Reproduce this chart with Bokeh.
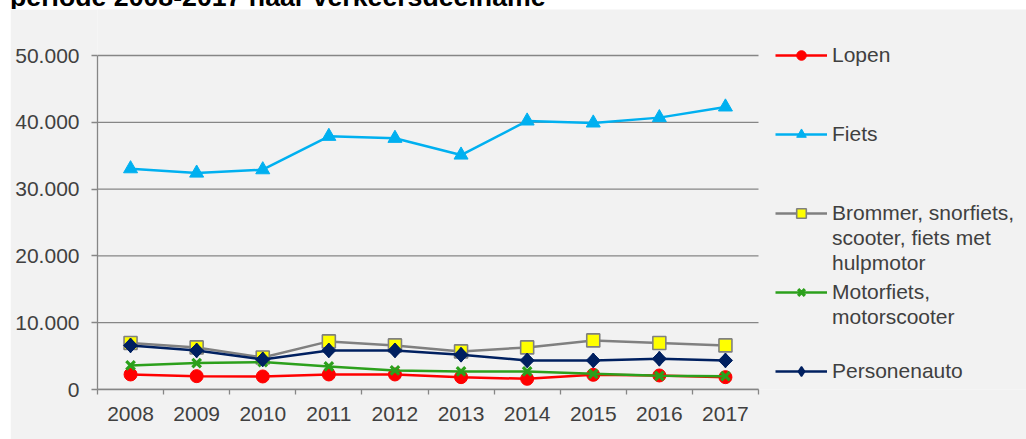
from bokeh.plotting import figure
from bokeh.models import Range1d, FixedTicker, Legend, LegendItem, Div
from bokeh.layouts import column
from bokeh.core.properties import value
from bokeh.embed import file_html
from bokeh.resources import INLINE
import numpy as np

# ---------------- data ----------------
years = ["2008", "2009", "2010", "2011", "2012", "2013", "2014", "2015", "2016", "2017"]
lopen = [2250, 2000, 1950, 2250, 2250, 1850, 1600, 2200, 2100, 1850]
fiets = [33050, 32400, 32900, 37900, 37600, 35100, 40200, 39900, 40700, 42300]
brommer = [6950, 6300, 4800, 7200, 6600, 5700, 6300, 7350, 6950, 6600]
motorfiets = [3600, 3950, 4100, 3450, 2850, 2700, 2700, 2350, 2050, 2000]
personenauto = [6600, 5850, 4500, 5850, 5850, 5200, 4350, 4350, 4600, 4350]

y_tick_values = [0, 10000, 20000, 30000, 40000, 50000]
y_tick_labels = ["0", "10.000", "20.000", "30.000", "40.000", "50.000"]

title_text = "periode 2008-2017 naar verkeersdeelname"

# ---------------- layout constants ----------------
FONT = "Liberation Sans"
AXIS_GRAY = "#868686"
TEXT_GRAY = "#404040"
BG = "#f2f2f2"

FIG_W, FIG_H = 1016, 430
PLOT_L, PLOT_R = 87, 748      # plotting area in canvas px
PLOT_T, PLOT_B = 46, 380
Y_MAX = 50000

n = len(years)
centers = [i + 0.5 for i in range(n)]
bounds = [float(i) for i in range(n + 1)]

# frame is widened to hold the legend; axes are bounded to the plotting area
x_end = n * (FIG_W - PLOT_L) / (PLOT_R - PLOT_L)
y_end = Y_MAX * PLOT_B / (PLOT_B - PLOT_T)

fig = figure(width=FIG_W, height=FIG_H,
             x_range=Range1d(0, x_end), y_range=Range1d(0, y_end),
             output_backend="svg", toolbar_location=None,
             min_border_left=PLOT_L, min_border_right=0,
             min_border_top=0, min_border_bottom=FIG_H - PLOT_B,
             border_fill_color=BG, background_fill_color=BG,
             outline_line_color=None)
fig.styles = {"margin-left": "10px"}

# axes
xt = FixedTicker(ticks=centers, minor_ticks=bounds)
fig.xaxis.ticker = xt
fig.xaxis.bounds = (0, n)
fig.xaxis.major_label_overrides = {c: y for c, y in zip(centers, years)}
fig.xaxis.major_tick_out = 0
fig.xaxis.major_tick_in = 0
fig.xaxis.minor_tick_out = 5
fig.xaxis.minor_tick_in = 0
fig.xaxis.minor_tick_line_color = AXIS_GRAY
fig.xaxis.minor_tick_line_width = 1.3
fig.xaxis.axis_line_color = AXIS_GRAY
fig.xaxis.axis_line_width = 1.3
fig.xaxis.major_label_standoff = 12

yt = FixedTicker(ticks=y_tick_values, minor_ticks=[])
fig.yaxis.ticker = yt
fig.yaxis.bounds = (0, Y_MAX)
fig.yaxis.major_label_overrides = {v: l for v, l in zip(y_tick_values, y_tick_labels)}
fig.yaxis.major_tick_out = 6
fig.yaxis.major_tick_in = 0
fig.yaxis.major_tick_line_color = AXIS_GRAY
fig.yaxis.major_tick_line_width = 1.3
fig.yaxis.axis_line_color = AXIS_GRAY
fig.yaxis.axis_line_width = 1.3
fig.yaxis.major_label_standoff = 12

for ax in (fig.xaxis, fig.yaxis):
    ax.major_label_text_font = FONT
    ax.major_label_text_font_size = "21px"
    ax.major_label_text_color = TEXT_GRAY

fig.xgrid.visible = False
fig.ygrid.visible = False
# horizontal gridlines limited to the category span
fig.segment(x0=[0] * len(y_tick_values), x1=[n] * len(y_tick_values),
            y0=y_tick_values, y1=y_tick_values,
            line_color=AXIS_GRAY, line_width=1.3)

# ---------------- series ----------------
def series(vals, color, marker, size, fill, line_color, mlw, angle=0.0):
    lr = fig.line(centers, vals, line_color=color, line_width=2.5)
    sr = fig.scatter(centers, vals, marker=marker, size=size, fill_color=fill,
                     line_color=line_color, line_width=mlw, angle=angle)
    return [lr, sr]

r_lopen = series(lopen, "#ff0000", "circle", 13, "#ff0000", "#ff0000", 1)
r_fiets = series(fiets, "#00b0f0", "triangle", 14, "#00b0f0", "#00b0f0", 1)
r_brom = series(brommer, "#808080", "square", 13, "#ffff00", "#808080", 1.6)
r_motor = series(motorfiets, "#2ca01c", "x", 12, "#2ca01c", "#2ca01c", 3.2)
r_auto = series(personenauto, "#002060", "square", 10, "#002060", "#002060", 1, angle=np.pi / 4)
# diamond used for the legend swatch (legend glyphs ignore rotation);
# it lies inside the rotated squares on the plot
r_auto_key = fig.scatter(centers, personenauto, marker="diamond", size=14,
                         fill_color="#002060", line_color="#002060", line_width=1.5)

# ---------------- legends ----------------
def add_legend(items, vy):
    lg = Legend(items=items, location=(678, vy), padding=0, margin=0,
                spacing=1, glyph_width=52, glyph_height=24, label_height=24,
                label_standoff=5, label_text_font=FONT, label_text_font_size="21px",
                label_text_color=TEXT_GRAY, background_fill_alpha=0,
                border_line_alpha=0)
    fig.add_layout(lg)

add_legend([LegendItem(label=value("Lopen"), renderers=r_lopen)], 322)
add_legend([LegendItem(label=value("Fiets"), renderers=r_fiets)], 243)
add_legend([LegendItem(label=value("Brommer, snorfiets,"), renderers=r_brom),
            LegendItem(label=value("scooter, fiets met"), renderers=[]),
            LegendItem(label=value("hulpmotor"), renderers=[])], 114)
add_legend([LegendItem(label=value("Motorfiets,"), renderers=r_motor),
            LegendItem(label=value("motorscooter"), renderers=[])], 60)
add_legend([LegendItem(label=value("Personenauto"), renderers=[r_auto[0], r_auto_key])], 6)

# ---------------- title (only its lower part is visible) ----------------
title_div = Div(
    text=('<div style="font-family: \'Liberation Sans\', Arial, sans-serif; '
          'font-weight: bold; font-size: 26.7px; line-height: 30px; height: 30px; color: black; '
          'white-space: nowrap; position: relative; top: -18px; left: 10px; '
          'margin: 0; padding: 0;">'
          + title_text + '</div>'),
    width=1026, height=9, styles={"overflow": "hidden", "margin": "0", "padding": "0"})

p = column(title_div, fig, spacing=0)

open("out.html", "w").write(file_html(p, INLINE))
